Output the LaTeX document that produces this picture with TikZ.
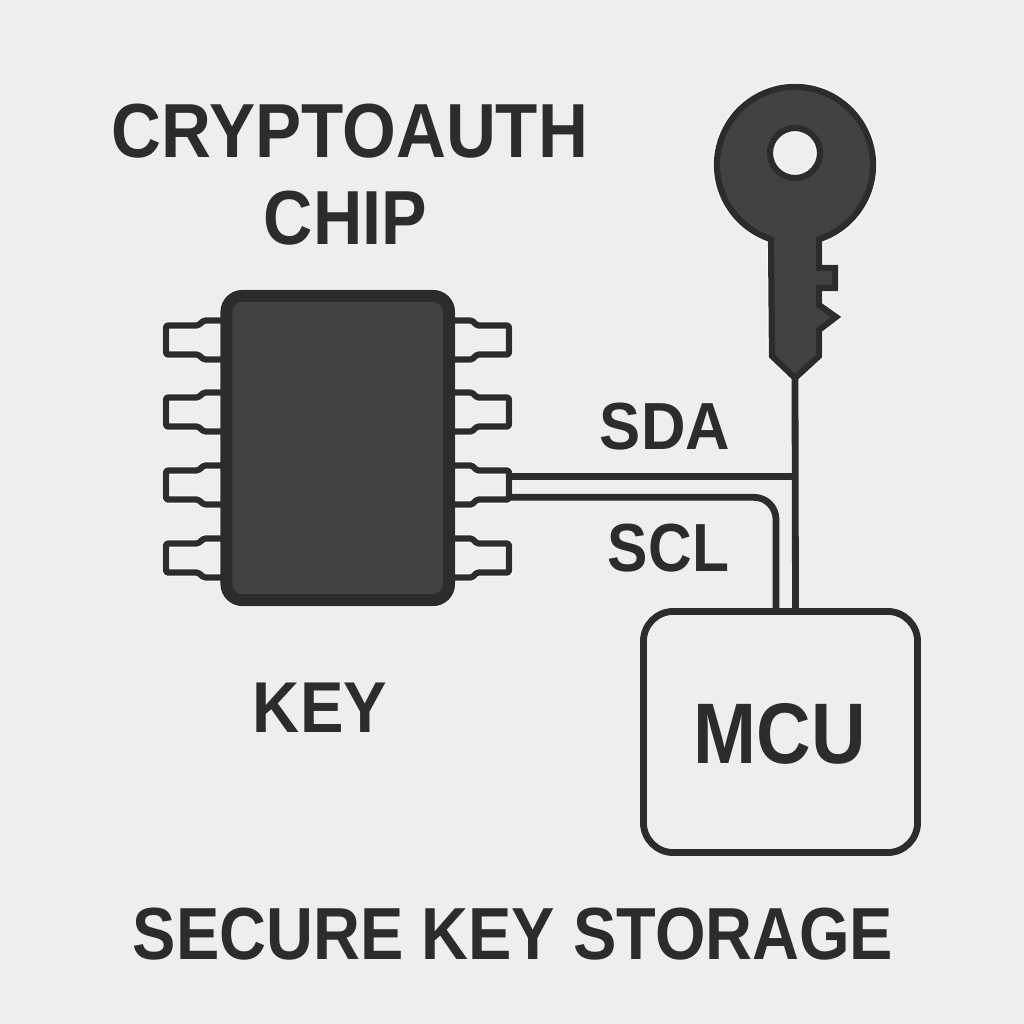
\documentclass[tikz,border=0pt]{standalone}
\usepackage{fontspec}
\setmainfont{Liberation Sans}
\definecolor{bgc}{HTML}{EEEEEE}
\definecolor{ink}{HTML}{2C2C2C}
\definecolor{bodyc}{HTML}{424242}
\definecolor{haloc}{HTML}{F8F8F8}
\newcommand{\fitlabel}[3]{\resizebox{#1 cm}{#2 cm}{\bfseries #3}}
\tikzset{
  halo/.style={preaction={draw=haloc,line width=#1}},
  wire/.style={draw=ink,line width=0.068cm,line join=round},
  pinshape/.style={draw=ink,line width=0.062cm,line join=round,rounded corners=0.015cm},
  label/.style={text=ink,inner sep=0,outer sep=0}
}
\begin{document}
\begin{tikzpicture}[x=0.01cm,y=0.01cm,yscale=-1]
\useasboundingbox (0,0) rectangle (1024,1024);
\fill[bgc] (0,0) rectangle (1024,1024);

% chip halo
\path[draw=haloc,line width=0.145cm,rounded corners=0.16cm] (226.5,296) rectangle (449,600);
% pins
\foreach \n/\c in {1/340,2/412,3/485,4/558}{
  \draw[pinshape,halo=0.085cm] (222,\c-19.5) -- (204,\c-19.5) -- (198,\c-14.5) -- (166,\c-14.5) -- (166,\c+14.5) -- (198,\c+14.5) -- (204,\c+19.5) -- (222,\c+19.5);
  \draw[pinshape,halo=0.085cm] (454,\c-19.5) -- (472,\c-19.5) -- (477,\c-14.5) -- (509,\c-14.5) -- (509,\c+14.5) -- (477,\c+14.5) -- (472,\c+19.5) -- (454,\c+19.5);
}
% chip
\node[name=chip,draw=ink,fill=bodyc,line width=0.12cm,rounded corners=0.16cm,minimum width=2.225cm,minimum height=3.04cm,inner sep=0,outer sep=0] at (337.75,448) {};

% key
\coordinate (keytip) at (795,378);
\draw[draw=ink,fill=bodyc,line width=0.062cm,line join=miter,even odd rule,halo=0.09cm]
  (819,239.2) arc[start angle=72.1,end angle=-252.1,radius=0.78cm]
  -- (772,356) -- (keytip) -- (819,356) -- (819,330) -- (836,317) -- (819,305) -- (819,288) -- (835,288) -- (835,268) -- (819,268) -- cycle
  (795,153) circle[radius=0.25cm];

% mcu and wires
\node[name=mcu,draw=ink,fill=bgc,line width=0.068cm,rounded corners=0.3cm,minimum width=2.74cm,minimum height=2.41cm,inner sep=0,outer sep=0] at (780.5,732) {};
\coordinate (sdastart) at (509,476.7);
\coordinate (sclstart) at (509,497.3);
\coordinate (sdajoin) at (795.5,476.7);
\coordinate (scldrop) at (776,612);
\coordinate (mcuvcc) at (795.5,612);
\draw[wire] (keytip) -- (mcuvcc);
\draw[wire] (sdastart) -- (sdajoin);
\draw[wire,rounded corners=0.22cm] (sclstart) -- (776,497.3) -- (scldrop);

% labels
\node[label,name=t1] at (350,131.5) {\fitlabel{4.76}{0.535}{CRYPTOAUTH}};
\node[label,name=t2] at (345.5,218) {\fitlabel{1.63}{0.535}{CHIP}};
\node[label,name=t3] at (320,708) {\fitlabel{1.34}{0.495}{KEY}};
\node[label,name=t4] at (665,427) {\fitlabel{1.30}{0.465}{SDA}};
\node[label,name=t5] at (668.5,548) {\fitlabel{1.21}{0.475}{SCL}};
\node[label,name=t6] at (780,734) {\fitlabel{1.72}{0.60}{MCU}};
\node[label,name=t7] at (513,934) {\fitlabel{7.60}{0.515}{SECURE KEY STORAGE}};
\end{tikzpicture}
\end{document}
